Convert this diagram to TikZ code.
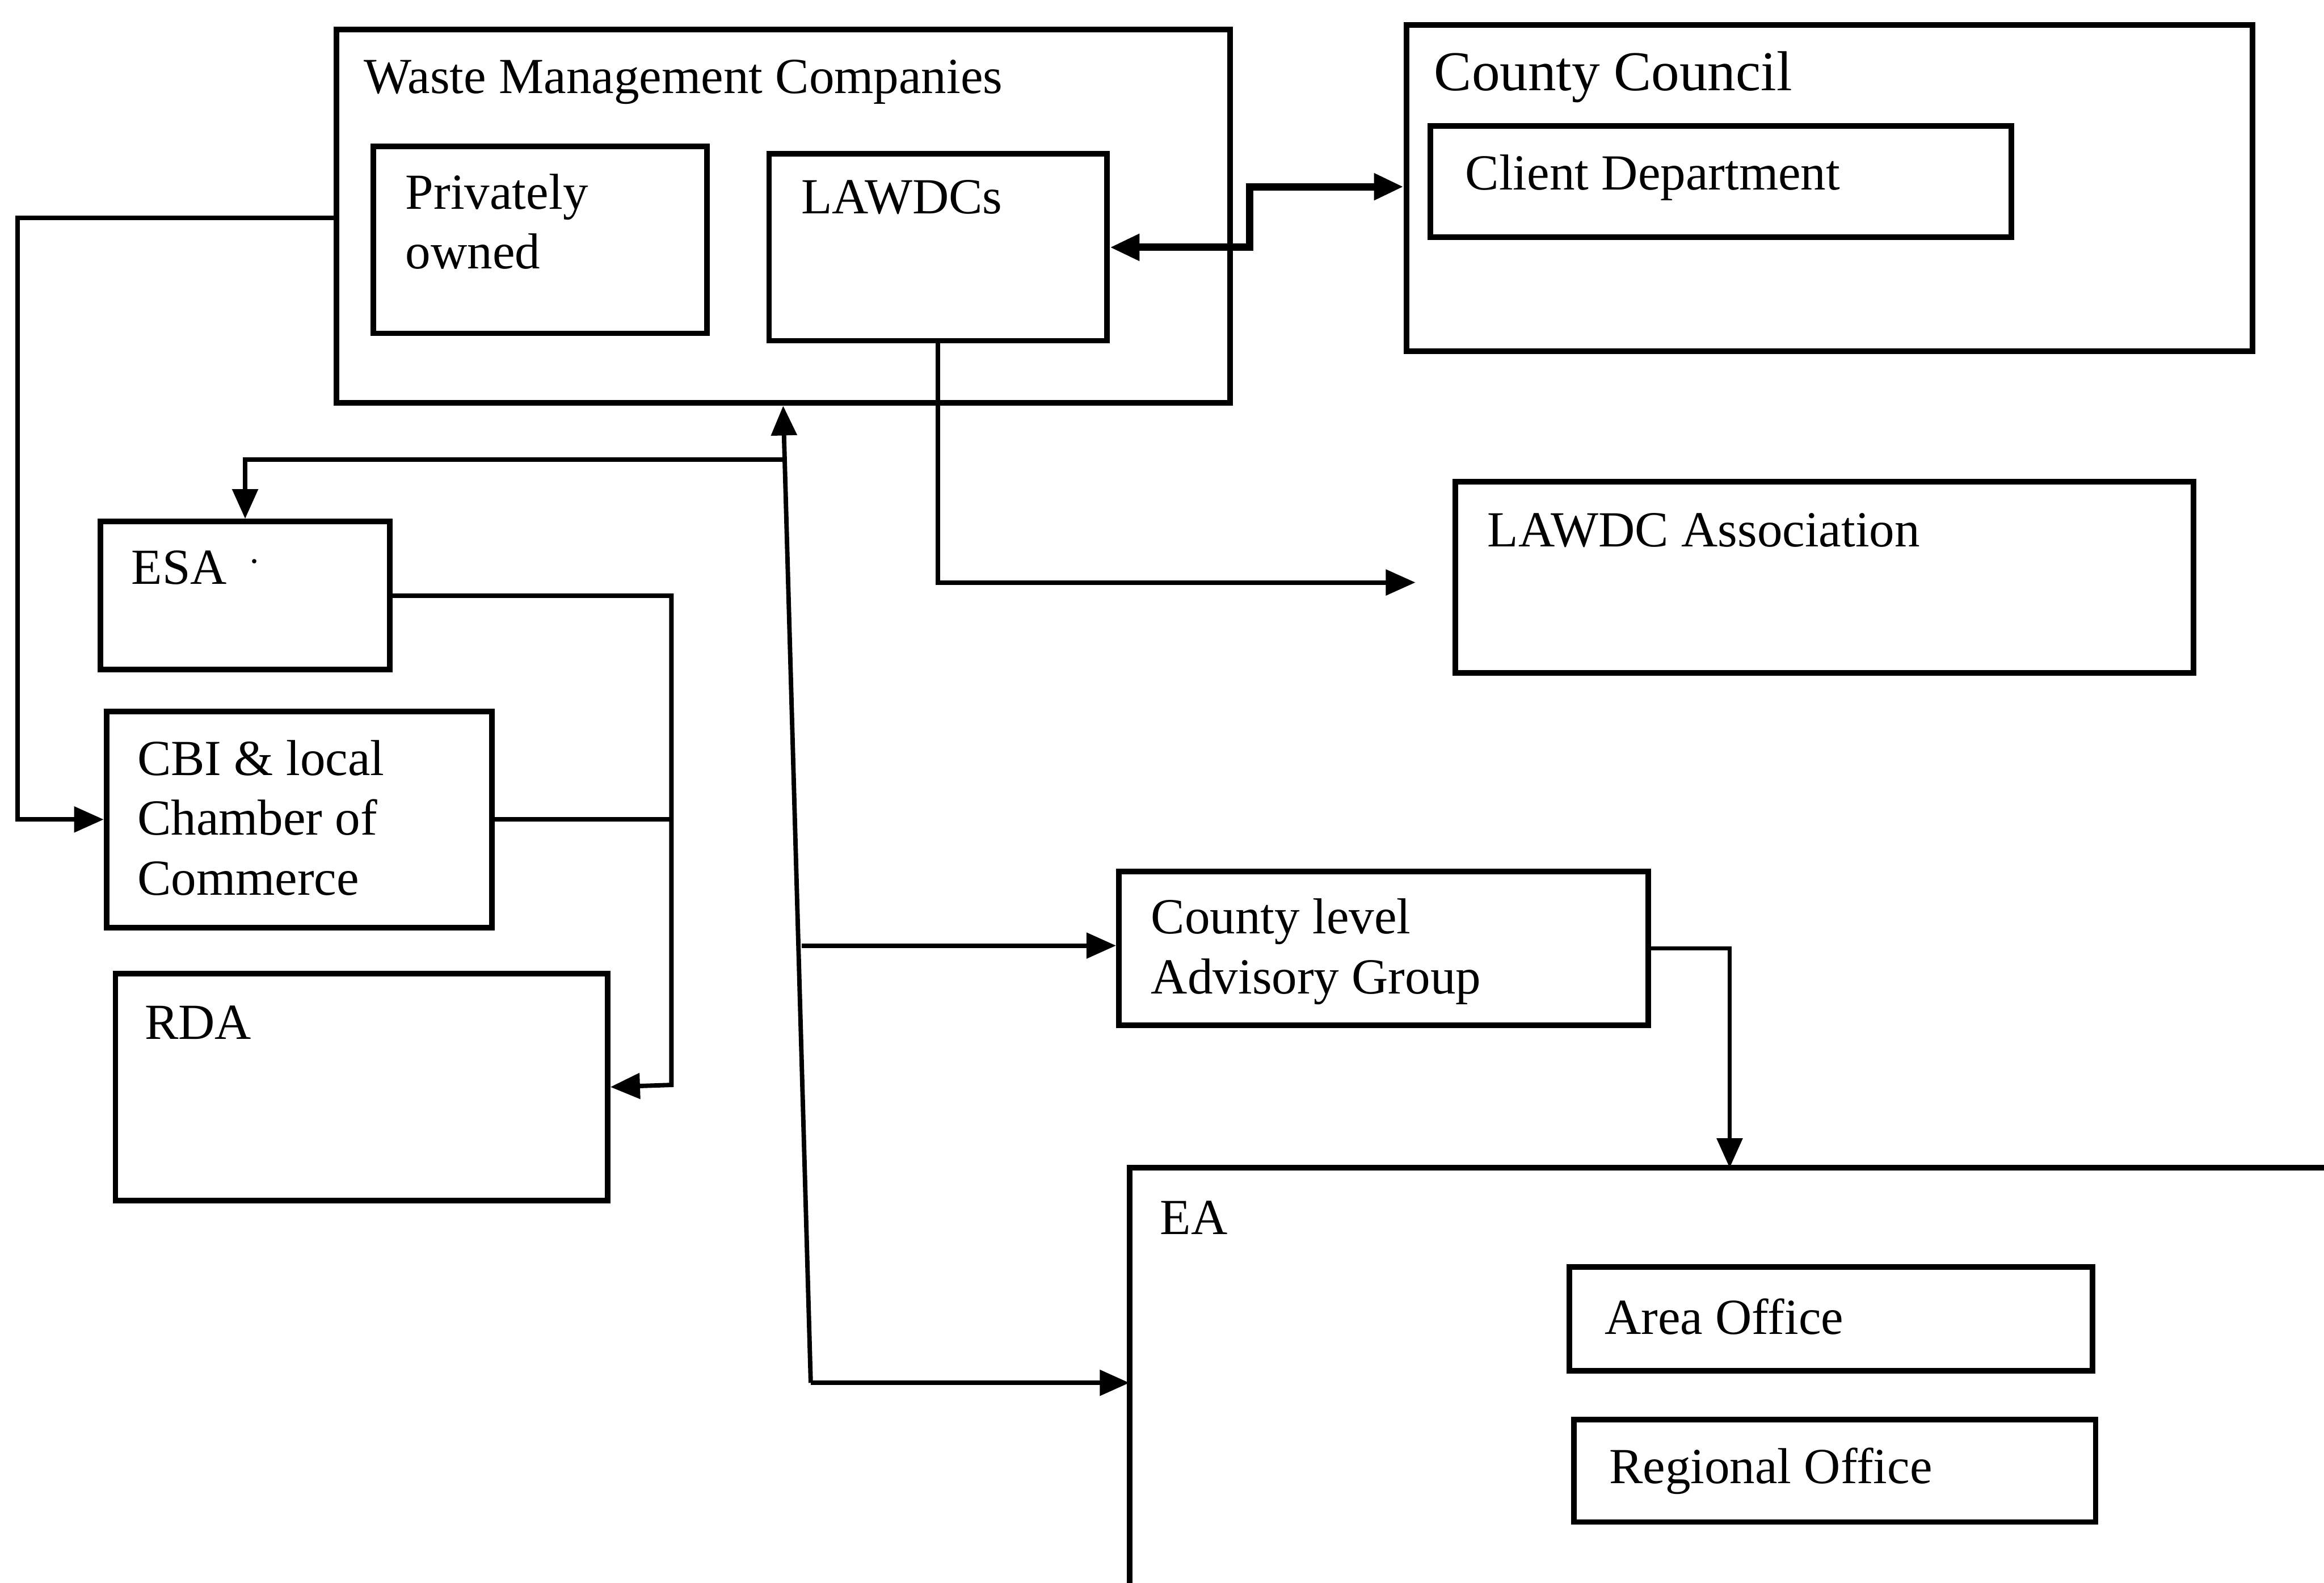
\documentclass[tikz,border=0pt]{standalone}
\usepackage{fontspec}
\setmainfont{Liberation Serif}
\usetikzlibrary{arrows.meta,calc}

% first line of a stacked label sits on the node's base line
\newcommand\stackedtext[1]{\begin{tabular}[t]{@{}l@{}}#1\end{tabular}}

\tikzset{
  orgbox/.style={draw, line width=0.38mm, rectangle, inner sep=0pt,
    anchor=north west},
  lbl/.style={anchor=base west, inner sep=0pt,
    font=\fontsize{9.7pt}{11.5pt}\selectfont},
  biglbl/.style={lbl, font=\fontsize{10.8pt}{12.8pt}\selectfont},
  conn/.style={line width=0.3mm, line join=miter},
  heavyconn/.style={line width=0.5mm, line join=miter},
  tip/.tip={Triangle[length=2mm, width=1.7mm]},
}

\begin{document}
\begin{tikzpicture}[x=0.1mm, y=-0.1mm]
\clip (0,0) rectangle (1568,1068);
\fill[white] (0,0) rectangle (1568,1068);

% ---- boxes ----
\node[orgbox, minimum width=60.3mm, minimum height=25.2mm] (wmc) at (225,18) {};
\node[orgbox, minimum width=22.5mm, minimum height=12.6mm] (priv) at (250,97) {};
\node[orgbox, minimum width=22.8mm, minimum height=12.6mm] (lawdcs) at (517,102) {};
\node[orgbox, minimum width=57.1mm, minimum height=22.0mm] (cc) at (947,15) {};
\node[orgbox, minimum width=39.2mm, minimum height=7.5mm] (client) at (963,83) {};
\node[orgbox, minimum width=49.8mm, minimum height=12.9mm] (assoc) at (980,323) {};
\node[orgbox, minimum width=19.5mm, minimum height=10.0mm] (esa) at (66,350) {};
\node[orgbox, minimum width=26.0mm, minimum height=14.6mm] (cbi) at (70,478) {};
\node[orgbox, minimum width=33.2mm, minimum height=15.3mm] (rda) at (76,655) {};
\node[orgbox, minimum width=35.7mm, minimum height=10.4mm] (clag) at (753,586) {};
\node[orgbox, minimum width=35.3mm, minimum height=7.0mm] (area) at (1057,853) {};
\node[orgbox, minimum width=35.2mm, minimum height=6.9mm] (regional) at (1060,956) {};

% EA runs off the right and bottom edges: only its top and left sides show
\node[orgbox, draw=none, minimum width=90mm, minimum height=40mm] (ea) at (762,788) {};
\draw[line width=0.38mm] (ea.south west) -- (ea.north west) -- (ea.north east);

% ---- labels ----
\node[lbl] (wmc-t) at (245,63) {Waste Management Companies};
\node[lbl] (priv-t) at (273,141) {\stackedtext{Privately\\owned}};
\node[lbl] (lawdcs-t) at (540,144) {LAWDCs};
\node[biglbl] (cc-t) at (967,61) {County Council};
\node[lbl] (client-t) at (988,128) {Client Department};
\node[lbl] (assoc-t) at (1003,369) {LAWDC Association};
\node[lbl] (esa-t) at (88,394) {ESA\hspace{0.45em}\raisebox{0.9ex}{\scriptsize .}};
\node[lbl] (cbi-t) at (92,523) {\stackedtext{CBI \& local\\Chamber of\\Commerce}};
\node[lbl] (rda-t) at (97,701) {RDA};
\node[lbl] (clag-t) at (776,630) {\stackedtext{County level\\Advisory Group}};
\node[lbl] (ea-t) at (782,833) {EA};
\node[lbl] (area-t) at (1082,900) {Area Office};
\node[lbl] (regional-t) at (1085,1001) {Regional Office};

% ---- junction and bend points ----
\coordinate (lt) at (12,147);
\coordinate (j1) at (528,310);
\coordinate (j2) at (541,638);
\coordinate (j3) at (547,933);
\coordinate (rc) at (453,732);
\coordinate (la) at (955,393);
\coordinate (dk) at (843,126);
\coordinate (ek) at (1167,0);

% ---- connectors ----
% waste companies to CBI
\draw[conn, -tip] (wmc.west |- lt) -- (lt) |- (cbi.west);
% central spine
\draw[conn, -tip] (j3) -- (wmc.south);
\draw[conn, -tip] (j1) -| (esa.north);
\draw[conn, -tip] (j2) -- (clag.west |- j2);
\draw[conn, -tip] (j3) -- (ea.west |- j3);
% ESA and CBI to RDA
\draw[conn, -tip] (esa.east) -| (rc) -- (rda.east);
\draw[conn] (cbi.east) -- (cbi.east -| rc);
% LAWDCs to association
\draw[conn, -tip] (lawdcs.south) |- (la);
% LAWDCs and county council
\draw[heavyconn, tip-tip] (lawdcs.east) -| (dk) -- (cc.west |- dk);
% advisory group to EA
\draw[conn, -tip] (clag.east) -| (ek |- ea.north);
\end{tikzpicture}
\end{document}
